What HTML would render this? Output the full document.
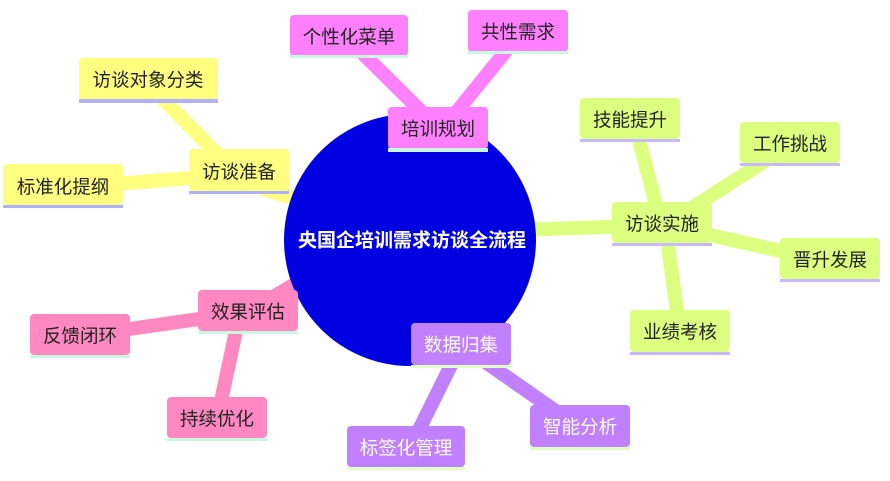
<!DOCTYPE html>
<html><head><meta charset="utf-8"><style>
body{margin:0;background:#fff;}
svg{display:block;font-family:"Liberation Sans","Noto Sans CJK SC",sans-serif;}
text{font-size:18.5px;text-anchor:middle;dominant-baseline:central;}
</style></head><body>
<svg width="890" height="481" viewBox="0 0 890 481">
<g stroke-linecap="butt" fill="none" stroke-width="14">
<path d="M349,40 L430,120" stroke="#ff80ff"/>
<path d="M518,36 L450,120" stroke="#ff80ff"/>
<path d="M148,84 L228,165" stroke="#ffff80"/>
<path d="M63,188 L230,175" stroke="#ffff80"/>
<path d="M250,185 L300,200" stroke="#ffff80"/>
<path d="M520,230 L660,225" stroke="#dcff80"/>
<path d="M635,125 L660,220" stroke="#dcff80"/>
<path d="M790,145 L665,225" stroke="#dcff80"/>
<path d="M830,262 L665,225" stroke="#dcff80"/>
<path d="M680,332 L665,225" stroke="#dcff80"/>
<path d="M248,312 L310,275" stroke="#ff88c0"/>
<path d="M80,336 L248,312" stroke="#ff88c0"/>
<path d="M217,420 L240,312" stroke="#ff88c0"/>
<path d="M461,345 L410,448" stroke="#c080ff"/>
<path d="M461,345 L580,428" stroke="#c080ff"/>
</g>
<circle cx="410" cy="240" r="126" fill="#0000e0"/>
<text x="412" y="241" fill="#fff" font-weight="bold" style="font-size:19px">央国企培训需求访谈全流程</text>

<g>
<rect x="290" y="15" width="118" height="41" rx="4" fill="#ff80ff"/><rect x="290" y="55" width="118" height="3" fill="#c8f8e0"/><text x="349" y="37" fill="#222">个性化菜单</text>
<rect x="468" y="10" width="100" height="42" rx="4" fill="#ff80ff"/><rect x="468" y="51" width="100" height="3" fill="#c8f8e0"/><text x="518" y="32" fill="#222">共性需求</text>
<rect x="388" y="107" width="100" height="42" rx="4" fill="#ff80ff"/><rect x="388" y="148" width="100" height="4" fill="#c8f8e0"/><text x="438" y="129" fill="#222">培训规划</text>

<rect x="79" y="58" width="139" height="42" rx="4" fill="#ffff80"/><rect x="79" y="99" width="139" height="4" fill="#b0b0ff"/><text x="148" y="80" fill="#222">访谈对象分类</text>
<rect x="189" y="149" width="100" height="42" rx="4" fill="#ffff80"/><rect x="189" y="191" width="100" height="3" fill="#b0b0ff"/><text x="239" y="172" fill="#222">访谈准备</text>
<rect x="3" y="164" width="120" height="41" rx="4" fill="#ffff80"/><rect x="3" y="205" width="120" height="3" fill="#b0b0ff"/><text x="63" y="187" fill="#222">标准化提纲</text>

<rect x="580" y="98" width="100" height="41" rx="4" fill="#dcff80"/><rect x="580" y="139" width="100" height="3" fill="#c8b8ff"/><text x="630" y="120" fill="#222">技能提升</text>
<rect x="740" y="122" width="100" height="41" rx="4" fill="#dcff80"/><rect x="740" y="163" width="100" height="3" fill="#c8b8ff"/><text x="790" y="144" fill="#222">工作挑战</text>
<rect x="612" y="202" width="100" height="41" rx="4" fill="#dcff80"/><rect x="612" y="243" width="100" height="3" fill="#c8b8ff"/><text x="662" y="224" fill="#222">访谈实施</text>
<rect x="780" y="238" width="100" height="41" rx="4" fill="#dcff80"/><rect x="780" y="279" width="100" height="3" fill="#c8b8ff"/><text x="830" y="260" fill="#222">晋升发展</text>
<rect x="630" y="310" width="100" height="42" rx="4" fill="#dcff80"/><rect x="630" y="352" width="100" height="3" fill="#c8b8ff"/><text x="680" y="332" fill="#222">业绩考核</text>

<rect x="198" y="290" width="100" height="41" rx="4" fill="#ff88c0"/><rect x="198" y="331" width="100" height="3" fill="#c8f8e0"/><text x="248" y="312" fill="#222">效果评估</text>
<rect x="30" y="314" width="100" height="41" rx="4" fill="#ff88c0"/><rect x="30" y="355" width="100" height="3" fill="#c8f8e0"/><text x="80" y="336" fill="#222">反馈闭环</text>
<rect x="167" y="397" width="100" height="41" rx="4" fill="#ff88c0"/><rect x="167" y="438" width="100" height="3" fill="#c8f8e0"/><text x="217" y="419" fill="#222">持续优化</text>

<rect x="411" y="323" width="100" height="42" rx="4" fill="#c080ff"/><rect x="411" y="365" width="100" height="3" fill="#e0ffc0"/><text x="461" y="345" fill="#fff">数据归集</text>
<rect x="347" y="426" width="118" height="41" rx="4" fill="#c080ff"/><rect x="347" y="467" width="118" height="3" fill="#e0ffc0"/><text x="406" y="448" fill="#fff">标签化管理</text>
<rect x="530" y="405" width="100" height="42" rx="4" fill="#c080ff"/><rect x="530" y="447" width="100" height="3" fill="#e0ffc0"/><text x="580" y="427" fill="#fff">智能分析</text>
</g>
</svg>
</body></html>
